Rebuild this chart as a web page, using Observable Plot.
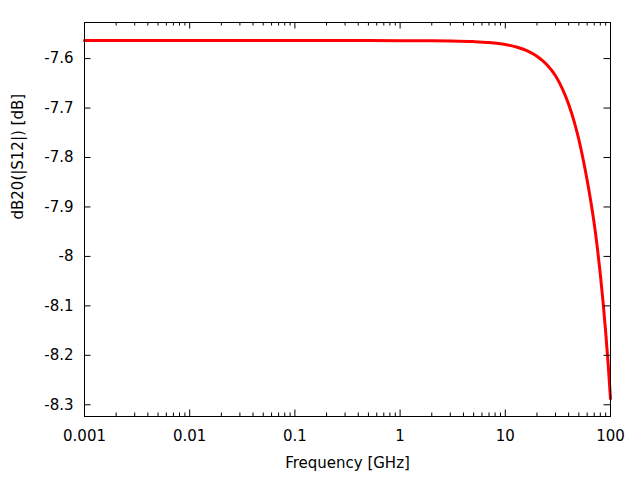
<!DOCTYPE html>
<html>
<head>
<meta charset="utf-8">
<script src="https://cdn.jsdelivr.net/npm/d3@7"></script>
<script src="https://cdn.jsdelivr.net/npm/@observablehq/plot@0.6"></script>
<style>
  html, body { margin: 0; padding: 0; background: #fff; }
  svg { display: block; }
</style>
</head>
<body>
<div id="chart"></div>
<script>
// Data
const freqGHz = [0.001, 0.01, 0.1, 0.5, 1, 2, 3, 5, 7, 10, 13, 16, 20, 25, 30, 35, 40, 45, 50, 55, 60, 65, 70, 75, 80, 85, 90, 95, 100];
const s12dB   = [-7.5636, -7.5636, -7.5636, -7.5636, -7.5637, -7.5639, -7.5643, -7.5656, -7.5675, -7.5715, -7.5770, -7.5838, -7.5952, -7.6130, -7.6347, -7.6616, -7.6924, -7.7266, -7.7636, -7.8041, -7.8462, -7.8889, -7.9336, -7.9827, -8.0359, -8.0925, -8.1533, -8.2179, -8.2877];

const xMajor = [0.001, 0.01, 0.1, 1, 10, 100];
const xMajorLabels = ["0.001", "0.01", "0.1", "1", "10", "100"];
const xMinor = [];
for (const decade of [0.001, 0.01, 0.1, 1, 10]) for (const m of [2, 3, 4, 5, 6, 7, 8, 9]) xMinor.push(decade * m);
const yMajor = [-7.6, -7.7, -7.8, -7.9, -8.0, -8.1, -8.2, -8.3];
const yMajorLabels = ["-7.6", "-7.7", "-7.8", "-7.9", "-8", "-8.1", "-8.2", "-8.3"];

const xTitle = "Frequency [GHz]";
const yTitle = "dB20(|S12|) [dB]";

const data = freqGHz.map((f, i) => ({f, db: s12dB[i]}));

const W = 640, H = 480;
const mL = 84, mR = 30, mT = 22, mB = 64;
const pw = W - mL - mR, ph = H - mT - mB;
const majLen = 6.5, minLen = 3.5;

const chart = Plot.plot({
  width: W,
  height: H,
  marginLeft: mL,
  marginRight: mR,
  marginTop: mT,
  marginBottom: mB,
  style: {fontFamily: "DejaVu Sans, sans-serif", fontSize: "15px", background: "#fff", color: "#000"},
  x: {type: "log", domain: [0.001, 100], axis: null},
  y: {domain: [-8.3237, -7.527], axis: null},
  marks: [
    Plot.line(data, {x: "f", y: "db", stroke: "#ff0000", strokeWidth: 3, curve: "monotone-x"}),
    // ticks (inward, mirrored)
    Plot.ruleX(xMajor, {stroke: "#000", insetTop: ph - majLen}),
    Plot.ruleX(xMajor, {stroke: "#000", insetBottom: ph - majLen}),
    Plot.ruleX(xMinor, {stroke: "#000", insetTop: ph - minLen}),
    Plot.ruleX(xMinor, {stroke: "#000", insetBottom: ph - minLen}),
    Plot.ruleY(yMajor, {stroke: "#000", insetRight: pw - majLen}),
    Plot.ruleY(yMajor, {stroke: "#000", insetLeft: pw - majLen}),
    Plot.frame({stroke: "#000", strokeWidth: 1}),
    // tick labels
    Plot.text(xMajor, {x: d => d, frameAnchor: "bottom", dy: 20, lineAnchor: "middle", text: (d, i) => xMajorLabels[i], fontSize: 15, fill: "#000"}),
    Plot.text(yMajor, {y: d => d, frameAnchor: "left", dx: -11, textAnchor: "end", lineAnchor: "middle", text: (d, i) => yMajorLabels[i], fontSize: 15, fill: "#000"}),
    // axis titles
    Plot.text([xTitle], {frameAnchor: "bottom", dy: 47, lineAnchor: "middle", text: d => d, fontSize: 15, fill: "#000"}),
    Plot.text([yTitle], {frameAnchor: "left", dx: -66, rotate: -90, lineAnchor: "middle", text: d => d, fontSize: 15, fill: "#000"})
  ]
});
document.getElementById("chart").appendChild(chart);
</script>
</body>
</html>
